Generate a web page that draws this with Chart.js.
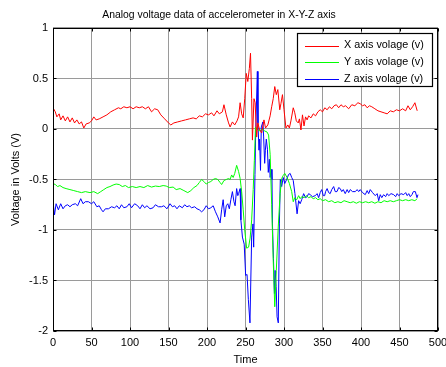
<!DOCTYPE html>
<html><head><meta charset="utf-8">
<script src="https://cdn.jsdelivr.net/npm/chart.js@4.4.0/dist/chart.umd.min.js"></script>
<style>
html,body{margin:0;padding:0;background:#fff;}
</style>
</head><body>
<canvas id="c" width="446" height="367"></canvas>
<script>
const seriesLabels = ['X axis volage (v)', 'Y axis volage (v)', 'Z axis volage (v)'];
const seriesColors = ['#ff0000', '#00ff00', '#0000ff'];
const xTicks = [0, 50, 100, 150, 200, 250, 300, 350, 400, 450, 500];
const xTickLabels = ['0', '50', '100', '150', '200', '250', '300', '350', '400', '450', '500'];
const yTicks = [-2, -1.5, -1, -0.5, 0, 0.5, 1];
const yTickLabels = ['-2', '-1.5', '-1', '-0.5', '0', '0.5', '1'];

const xAxisT = [0,3,5,8,10,13,16,19,22,25,28,31,34,37,40,43,47,50,53,56,60,65,70,75,80,85,88,92,96,100,104,108,112,116,120,124,128,132,136,140,145,150,153,157,162,167,172,177,182,186,190,194,198,202,206,209,213,216,220,222,225,228,230,233,236,239,241,243,245,247,249,251,253,255,256.5,258,259,261,262.5,264.5,266,268,271,274,276,279,282,284,286,288,290,292,294.5,296,298,300,302.5,305,307,309,312,314,316,318.5,320,322,324,326,328,330,332,335,338,341,344,347,350,353,356,359,362,365,368,371,374,377,380,384,388,392,396,399,402,405,408,411,414,418,422,426,430,434,438,442,446,450,454,458,461,464,467,470,473];
const xAxisV = [0.21,0.17,0.12,0.15,0.09,0.13,0.08,0.12,0.07,0.11,0.06,0.09,0.05,0.07,0.01,0.05,0.06,0.08,0.12,0.09,0.1,0.12,0.14,0.17,0.19,0.21,0.2,0.22,0.21,0.22,0.2,0.22,0.21,0.22,0.2,0.22,0.17,0.2,0.19,0.14,0.1,0.06,0.04,0.06,0.07,0.08,0.09,0.1,0.11,0.1,0.13,0.12,0.15,0.14,0.16,0.13,0.18,0.15,0.17,0.24,0.14,0.06,0.02,0.07,0.04,0.08,0.12,0.26,0.15,0.11,0.3,0.55,0.47,0.6,0.75,0.3,-0.11,0.3,0.26,-0.08,0.06,0.0,-0.04,0.09,0.01,0.04,0.13,0.22,0.3,0.42,0.34,0.39,0.19,0.25,0.34,0.19,0.01,0.04,0.01,0.08,0.21,0.16,0.08,0.06,0.1,-0.01,0.14,0.03,0.12,0.09,0.13,0.11,0.15,0.13,0.17,0.19,0.17,0.21,0.19,0.22,0.2,0.23,0.24,0.21,0.24,0.22,0.23,0.2,0.24,0.23,0.26,0.25,0.23,0.24,0.21,0.23,0.22,0.2,0.18,0.17,0.16,0.15,0.18,0.17,0.19,0.18,0.2,0.18,0.23,0.19,0.22,0.26,0.18];

const yAxisT = [0,3,6,9,13,17,22,27,32,37,42,48,53,58,62,66,70,74,78,82,86,90,94,98,103,108,113,118,123,128,133,138,143,147,151,156,160,165,170,175,179,183,187,190,193,196,199,202,205,208,211,214,217,219,222,225,228,230,232,234,236,238.5,241,243,245,247,249,251.5,254,256,258,260,261.5,263,266,269,272,275,278,280,282,284,286,288,290,292.5,295,297,299,301,304,307,310,312,314,316.5,319,321,323,326,329,332,335,338,341,344,347,350,354,358,362,366,370,374,378,382,386,390,394,398,402,406,410,414,418,422,426,430,434,438,442,446,450,454,458,462,466,470,473];
const yAxisV = [-0.54,-0.55,-0.57,-0.56,-0.58,-0.59,-0.6,-0.61,-0.62,-0.63,-0.62,-0.63,-0.62,-0.64,-0.62,-0.6,-0.58,-0.57,-0.555,-0.545,-0.55,-0.57,-0.56,-0.58,-0.57,-0.58,-0.57,-0.58,-0.56,-0.575,-0.565,-0.57,-0.56,-0.565,-0.58,-0.575,-0.6,-0.59,-0.61,-0.63,-0.61,-0.58,-0.56,-0.53,-0.5,-0.52,-0.545,-0.53,-0.52,-0.5,-0.49,-0.5,-0.53,-0.55,-0.51,-0.5,-0.49,-0.5,-0.455,-0.48,-0.44,-0.36,-0.42,-0.49,-0.62,-0.8,-1.0,-1.18,-1.17,-1.08,-0.9,-0.6,-0.31,0.02,-0.01,-0.02,0.0,-0.02,-0.03,-0.06,-0.25,-0.75,-1.3,-1.76,-1.4,-0.97,-0.64,-0.49,-0.46,-0.44,-0.48,-0.54,-0.62,-0.72,-0.68,-0.7,-0.66,-0.69,-0.67,-0.68,-0.66,-0.68,-0.67,-0.69,-0.68,-0.7,-0.69,-0.71,-0.7,-0.72,-0.71,-0.73,-0.72,-0.73,-0.71,-0.72,-0.73,-0.72,-0.735,-0.72,-0.73,-0.72,-0.73,-0.72,-0.735,-0.72,-0.73,-0.71,-0.72,-0.71,-0.72,-0.71,-0.7,-0.71,-0.7,-0.71,-0.7,-0.71,-0.69];

const zAxisT = [0,2,4,7,10,13,16,19,22,25,29,32,36,39,42,46,50,53,57,60,63,65,68,72,76,80,83,86,89,92,96,99,102,106,110,113,116,119,122,126,130,133,137,141,144,148,152,155,158,161,164,168,171,174,177,180,184,187,190,193,196,199,202,205,208,211,214,217,219,221,223,225,227,229,231,233,235,236.5,238.5,240,241,243,244,246,248.3,250.2,252,253.7,255.8,258,259.7,260.6,262.3,263.2,265.4,266.2,267.5,268.3,269.5,270.5,272.6,273.5,274.9,275.8,277,278.5,279.6,281,282,283.5,284.4,285,286.3,287.6,288.5,289.8,291,292.6,294,295.2,297,299,301,303.4,306,308,310,312,314.2,317,319,321,323,325.5,328,330,332,334,337,340.7,343,345,347,349,351,352.8,354,356,358,360,362,364.5,366.5,368.8,371,373,375,377,379.5,382,384,386,389,392.6,395,397,399,402,405.5,408,410,412,415,418.5,421,423,425,427,429.4,432,434,436,439,442.4,445,447,449,452,455.4,458,460,462,464,466.2,468,470.6,472.7,474];
const zAxisV = [-0.72,-0.85,-0.74,-0.8,-0.74,-0.79,-0.76,-0.75,-0.77,-0.75,-0.74,-0.76,-0.69,-0.74,-0.72,-0.72,-0.74,-0.72,-0.77,-0.76,-0.8,-0.82,-0.79,-0.79,-0.77,-0.78,-0.76,-0.79,-0.75,-0.78,-0.77,-0.74,-0.78,-0.74,-0.76,-0.79,-0.75,-0.78,-0.76,-0.79,-0.78,-0.75,-0.77,-0.77,-0.76,-0.79,-0.74,-0.77,-0.76,-0.79,-0.76,-0.78,-0.75,-0.77,-0.76,-0.78,-0.77,-0.79,-0.8,-0.82,-0.8,-0.76,-0.79,-0.78,-0.76,-0.82,-0.87,-0.93,-0.8,-0.7,-0.87,-0.76,-0.74,-0.79,-0.7,-0.62,-0.72,-0.76,-0.59,-0.66,-0.64,-0.59,-0.9,-1.07,-1.14,-1.45,-1.44,-1.69,-1.92,-1.07,-0.94,-1.17,-0.45,-0.04,0.57,0.06,-0.21,-0.1,-0.41,0.02,0.07,-0.07,-0.34,-0.21,-0.1,-0.2,-0.43,-0.3,-0.48,-0.4,-0.5,-0.94,-1.28,-1.63,-1.4,-1.56,-1.86,-1.92,-0.94,-0.5,-0.57,-0.48,-0.54,-0.5,-0.45,-0.44,-0.48,-0.51,-0.64,-0.84,-0.71,-0.74,-0.7,-0.64,-0.68,-0.67,-0.64,-0.65,-0.67,-0.66,-0.64,-0.68,-0.63,-0.6,-0.66,-0.66,-0.62,-0.59,-0.63,-0.64,-0.6,-0.57,-0.62,-0.62,-0.58,-0.59,-0.62,-0.6,-0.64,-0.6,-0.63,-0.6,-0.62,-0.62,-0.6,-0.62,-0.6,-0.63,-0.65,-0.61,-0.64,-0.6,-0.63,-0.66,-0.64,-0.71,-0.65,-0.68,-0.65,-0.67,-0.64,-0.66,-0.64,-0.65,-0.67,-0.64,-0.66,-0.64,-0.65,-0.63,-0.66,-0.64,-0.67,-0.65,-0.62,-0.62,-0.68,-0.65];

const FONT = '"Liberation Sans", Arial, sans-serif';
const toPts = (t, v) => t.map((x, i) => ({x: x, y: v[i]}));
const allT = [xAxisT, yAxisT, zAxisT];
const allV = [xAxisV, yAxisV, zAxisV];

const datasets = seriesLabels.map((lab, i) => ({
  label: lab,
  data: toPts(allT[i], allV[i]),
  borderColor: seriesColors[i],
  backgroundColor: seriesColors[i],
  borderWidth: 1,
  pointRadius: 0,
  tension: 0,
  fill: false
}));

const boxPlugin = {
  id: 'boxPlugin',
  afterDatasetsDraw(chart) {
    const {ctx, chartArea: a, scales} = chart;
    ctx.save();
    ctx.strokeStyle = '#000';
    ctx.lineWidth = 1;
    const L = Math.round(a.left) + 0.5, R = Math.round(a.right) - 0.5;
    const T = Math.round(a.top) + 0.5, B = Math.round(a.bottom) - 0.5;
    ctx.strokeRect(L, T, R - L, B - T);
    ctx.beginPath();
    xTicks.forEach(v => {
      const px = Math.round(scales.x.getPixelForValue(v)) + 0.5;
      ctx.moveTo(px, B); ctx.lineTo(px, B - 3);
      ctx.moveTo(px, T); ctx.lineTo(px, T + 3);
    });
    yTicks.forEach(v => {
      const py = Math.round(scales.y.getPixelForValue(v)) + 0.5;
      ctx.moveTo(L, py); ctx.lineTo(L + 3, py);
      ctx.moveTo(R, py); ctx.lineTo(R - 3, py);
    });
    ctx.stroke();

    // legend box (MATLAB style, inside the axes, top-right)
    const bx = 297.5, by = 33.5, bw = 135, bh = 53;
    ctx.fillStyle = '#fff';
    ctx.fillRect(bx, by, bw, bh);
    ctx.strokeStyle = '#000';
    ctx.lineWidth = 1.2;
    ctx.strokeRect(bx, by, bw, bh);
    ctx.font = '10.8px ' + FONT;
    ctx.textBaseline = 'middle';
    ctx.textAlign = 'left';
    chart.data.datasets.forEach((ds, i) => {
      const cy = 45.5 + i * 16.6;
      const ly = Math.round(cy) + 0.5;
      ctx.strokeStyle = ds.borderColor;
      ctx.lineWidth = 1;
      ctx.beginPath();
      ctx.moveTo(305, ly); ctx.lineTo(339, ly);
      ctx.stroke();
      ctx.fillStyle = '#000';
      ctx.fillText(ds.label, 344, cy);
    });
    ctx.restore();
  }
};

new Chart(document.getElementById('c'), {
  type: 'line',
  data: {datasets: datasets},
  options: {
    responsive: false,
    animation: false,
    layout: {padding: {left: 0, right: 8, top: 0, bottom: 0}},
    plugins: {
      legend: {display: false},
      tooltip: {enabled: false},
      title: {display: true, text: 'Analog voltage data of accelerometer in X-Y-Z axis', color: '#000',
        font: {family: FONT, size: 10.4, weight: 'normal'}, padding: {top: 9, bottom: 6.5}}
    },
    scales: {
      x: {
        type: 'linear', min: 0, max: 500,
        afterBuildTicks: s => { s.ticks = xTicks.map(v => ({value: v})); },
        afterFit: s => { s.height = 36; s.paddingLeft = 0; s.paddingRight = 0; },
        grid: {color: '#9a9a9a', lineWidth: 1, drawTicks: false},
        border: {display: false},
        ticks: {padding: 5, color: '#000', font: {family: FONT, size: 11}, maxRotation: 0, autoSkip: false,
          callback: v => { const k = xTicks.indexOf(v); return k >= 0 ? xTickLabels[k] : ''; }},
        title: {display: true, text: 'Time', color: '#000', font: {family: FONT, size: 11}, padding: {top: 3.5, bottom: 0}}
      },
      y: {
        type: 'linear', min: -2, max: 1,
        afterBuildTicks: s => { s.ticks = yTicks.map(v => ({value: v})); },
        afterFit: s => { s.width = 53; s.paddingTop = 0; s.paddingBottom = 0; },
        grid: {color: '#9a9a9a', lineWidth: 1, drawTicks: false},
        border: {display: false},
        ticks: {padding: 5, color: '#000', font: {family: FONT, size: 11}, autoSkip: false,
          callback: v => { const k = yTicks.indexOf(v); return k >= 0 ? yTickLabels[k] : ''; }},
        title: {display: true, text: 'Voltage in Volts (V)', color: '#000', font: {family: FONT, size: 11}, padding: {top: 9, bottom: 0}}
      }
    }
  },
  plugins: [boxPlugin]
});
</script>
</body></html>
